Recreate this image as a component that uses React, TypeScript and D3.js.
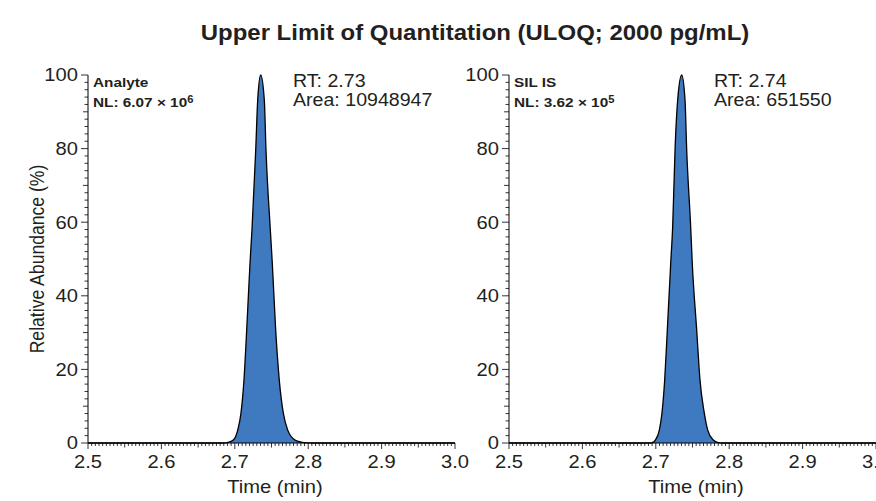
import React from "react";
import * as d3 from "d3";

// ---------- data ----------
const timesAnalyte = [2.5, 2.684, 2.6907, 2.698, 2.704, 2.7084, 2.7125, 2.7162, 2.7207, 2.7234, 2.7285, 2.7312, 2.7353, 2.7402, 2.7425, 2.7484, 2.7511, 2.7557, 2.7606, 2.7661, 2.7721, 2.782, 2.79, 2.8, 2.815, 3.0];
const abundAnalyte = [0, 0, 0.15, 0.8, 3.5, 8.1, 17.1, 30.7, 48.8, 57.9, 79.6, 93.2, 100, 93.2, 79.6, 57.9, 48.8, 30.7, 17.1, 8.1, 3.5, 0.8, 0.25, 0.06, 0, 0];

const timesIS = [2.5, 2.692, 2.6958, 2.6993, 2.7048, 2.7084, 2.7121, 2.7157, 2.7203, 2.723, 2.7262, 2.7298, 2.7353, 2.7398, 2.7421, 2.7475, 2.7497, 2.7557, 2.7602, 2.7661, 2.7707, 2.7783, 2.7851, 2.79, 3.0];
const abundIS = [0, 0, 0.15, 0.8, 3.5, 8.1, 17.1, 30.7, 48.8, 58.8, 79.6, 93.2, 100, 93.2, 79.6, 58.8, 48.8, 30.7, 17.1, 8.1, 3.5, 0.8, 0.1, 0, 0];

const xTickValues = [2.5, 2.6, 2.7, 2.8, 2.9, 3.0];
const xTickLabels = ["2.5", "2.6", "2.7", "2.8", "2.9", "3.0"];
const yTickValues = [0, 20, 40, 60, 80, 100];
const yTickLabels = ["0", "20", "40", "60", "80", "100"];

const panelNames = ["Analyte", "SIL IS"];
const panelNL = ["6.07 × 10", "3.62 × 10"];
const panelExp = ["6", "5"];
const panelRT = ["2.73", "2.74"];
const panelArea = ["10948947", "651550"];

const titleText = "Upper Limit of Quantitation (ULOQ; 2000 pg/mL)";
const xLabel = "Time (min)";
const yLabel = "Relative Abundance (%)";

// ---------- style ----------
const W = 876;
const H = 501;
const SX = 1.12;
const FONT = "'Liberation Sans', Arial, Helvetica, sans-serif";
const INK = "#231f20";
const FILL = "#3f79bf";
const Y_TOP = 75;
const Y_BOT = 443;

type TxtProps = {
  x: number;
  y: number;
  size: number;
  anchor?: string;
  weight?: string | number;
  rotate?: boolean;
  children?: React.ReactNode;
};

function Txt({ x, y, size, anchor = "start", weight = "normal", rotate = false, children }: TxtProps) {
  const tr = rotate
    ? `translate(${x},${y}) rotate(-90) scale(1,${SX})`
    : `translate(${x},${y}) scale(${SX},1)`;
  return (
    <text
      transform={tr}
      fontFamily={FONT}
      fontSize={size}
      fontWeight={weight}
      textAnchor={anchor}
      fill={INK}
    >
      {children}
    </text>
  );
}

type PanelProps = {
  x0: number;
  x1: number;
  times: number[];
  abund: number[];
  idx: number;
};

function Panel({ x0, x1, times, abund, idx }: PanelProps) {
  const x = d3.scaleLinear().domain([2.5, 3.0]).range([x0, x1]);
  const y = d3.scaleLinear().domain([0, 100]).range([Y_BOT, Y_TOP]);
  const pts = times.map((t, i) => [t, abund[i]] as [number, number]);
  const area = d3
    .area<[number, number]>()
    .x((d) => x(d[0]))
    .y0(y(0))
    .y1((d) => y(d[1]))
    .curve(d3.curveMonotoneX);
  const line = d3
    .line<[number, number]>()
    .x((d) => x(d[0]))
    .y((d) => y(d[1]))
    .curve(d3.curveMonotoneX);

  const xMinor = d3.range(0, 101).map((i) => ({ v: 2.5 + i * 0.005, i }));
  const yMinor = d3.range(0, 51).map((i) => ({ v: i * 2, i }));

  return (
    <g>
      <path d={area(pts) || ""} fill={FILL} stroke="none" />
      <path d={line(pts) || ""} fill="none" stroke="#000" strokeWidth={1.3} strokeLinejoin="miter" />
      {/* axes */}
      <line x1={x0} x2={x0} y1={Y_TOP} y2={Y_BOT} stroke="#000" strokeWidth={1} />
      <line x1={x0} x2={x1} y1={Y_BOT} y2={Y_BOT} stroke="#000" strokeWidth={1} />
      {xMinor.map(({ v, i }) => {
        const len = i % 20 === 0 ? 6 : i % 10 === 0 ? 4.5 : 3;
        const px = x(v);
        return <line key={"xm" + i} x1={px} x2={px} y1={Y_BOT} y2={Y_BOT + len} stroke="#000" strokeWidth={0.8} />;
      })}
      {yMinor.map(({ v, i }) => {
        const len = i % 10 === 0 ? 7 : i % 5 === 0 ? 5 : 3.5;
        const py = y(v);
        return <line key={"ym" + i} x1={x0 - len} x2={x0} y1={py} y2={py} stroke="#000" strokeWidth={0.8} />;
      })}
      {xTickValues.map((v, i) => (
        <Txt key={"xl" + i} x={x(v)} y={Y_BOT + 25} size={18} anchor="middle">
          {xTickLabels[i]}
        </Txt>
      ))}
      {yTickValues.map((v, i) => (
        <Txt key={"yl" + i} x={x0 - 10} y={y(v) + 6.3} size={18} anchor="end">
          {yTickLabels[i]}
        </Txt>
      ))}
      <Txt x={(x0 + x1) / 2 + 3.5} y={493} size={18} anchor="middle">
        {xLabel}
      </Txt>
      {/* annotations */}
      <Txt x={x0 + 5} y={87} size={13.7} weight="bold">
        {panelNames[idx]}
      </Txt>
      <Txt x={x0 + 5} y={107} size={13.7} weight="bold">
        {"NL: " + panelNL[idx]}
        <tspan fontSize={10} dy={-4.5}>{panelExp[idx]}</tspan>
      </Txt>
      <Txt x={x0 + 205} y={87} size={17.5}>
        {"RT: " + panelRT[idx]}
      </Txt>
      <Txt x={x0 + 205} y={105.5} size={17.5}>
        {"Area: " + panelArea[idx]}
      </Txt>
    </g>
  );
}

export default function App() {
  return (
    <svg
      width={W}
      height={H}
      viewBox={`0 0 ${W} ${H}`}
      style={{ position: "absolute", left: 0, top: 0, background: "#fff" }}
    >
      <rect x={0} y={0} width={W} height={H} fill="#fff" />
      <Txt x={475} y={40} size={21.4} weight="bold" anchor="middle">
        {titleText}
      </Txt>
      <Txt x={44} y={259} size={17.6} anchor="middle" rotate>
        {yLabel}
      </Txt>
      <Panel x0={88} x1={455} times={timesAnalyte} abund={abundAnalyte} idx={0} />
      <Panel x0={509} x1={876} times={timesIS} abund={abundIS} idx={1} />
    </svg>
  );
}
